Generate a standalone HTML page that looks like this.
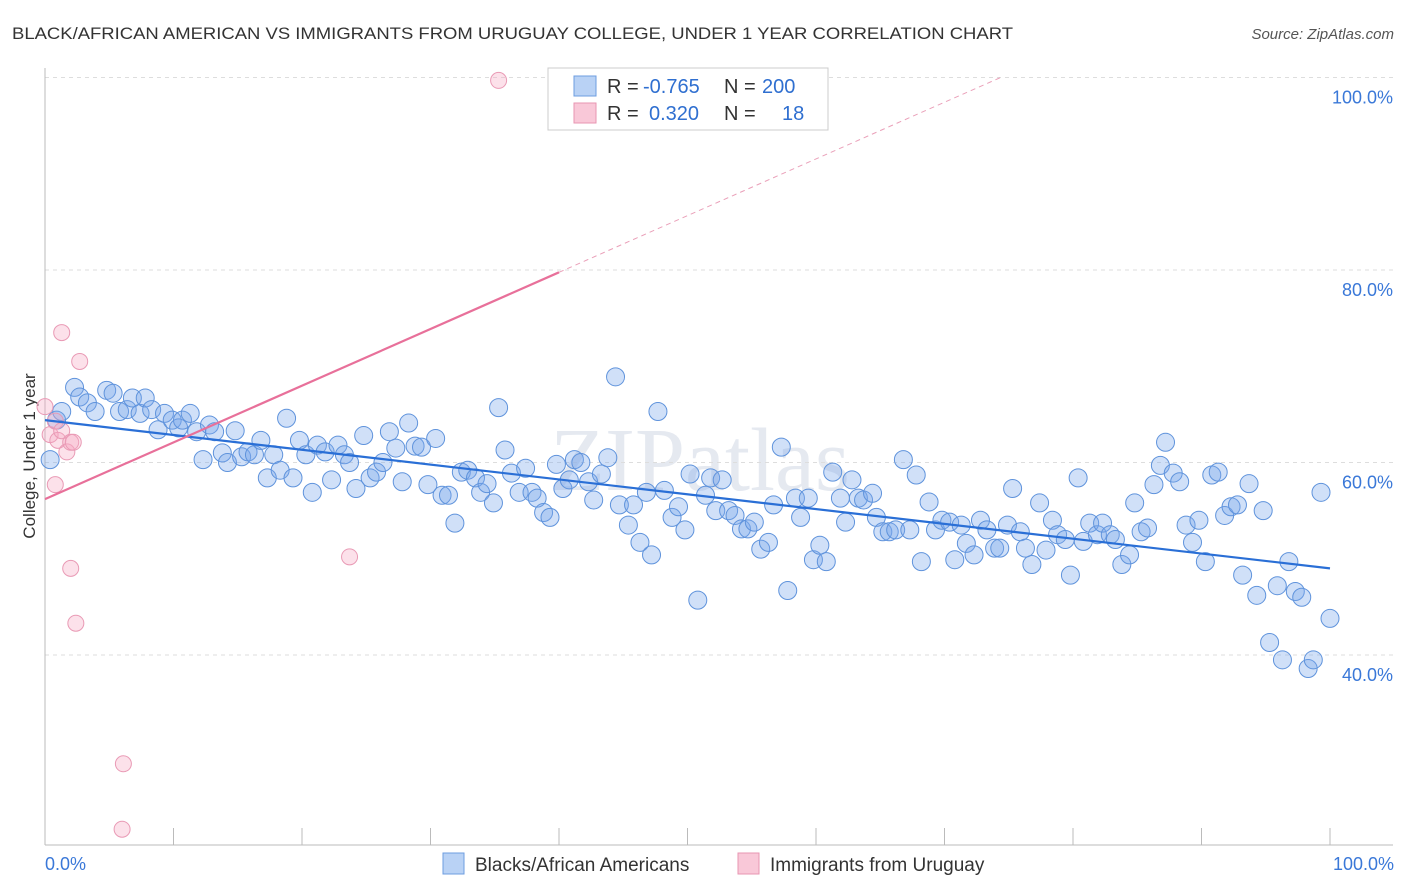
<!DOCTYPE html>
<html><head><meta charset="utf-8"><style>
body{margin:0;background:#fff;font-family:"Liberation Sans",sans-serif;}
#wrap{position:relative;width:1406px;height:892px;overflow:hidden;}
</style></head><body>
<div id="wrap">
<svg id="svg" width="1406" height="892" xmlns="http://www.w3.org/2000/svg">
<text x="12" y="39" font-size="17" fill="#333" textLength="1001" lengthAdjust="spacingAndGlyphs">BLACK/AFRICAN AMERICAN VS IMMIGRANTS FROM URUGUAY COLLEGE, UNDER 1 YEAR CORRELATION CHART</text>
<text x="1394" y="39" font-size="15" fill="#555" font-style="italic" text-anchor="end">Source: ZipAtlas.com</text>
<text x="700" y="490" font-size="90" fill="#e5e9f0" text-anchor="middle" font-family="Liberation Serif,serif">ZIPatlas</text>
<text x="35" y="456" font-size="17" fill="#333" text-anchor="middle" transform="rotate(-90 35 456)">College, Under 1 year</text>
<g id="grid"></g><g id="marks"></g>
<g>
<rect x="548" y="68" width="280" height="62" fill="#fff" stroke="#ccc"/>
<rect x="574" y="76" width="22" height="20" fill="#b9d2f5" stroke="#6d9de0"/>
<rect x="574" y="103" width="22" height="20" fill="#f9c8d8" stroke="#e896b2"/>
<text y="93" font-size="20" fill="#333"><tspan x="607">R = </tspan><tspan x="643" fill="#2f6fd0">-0.765</tspan><tspan x="724">N = </tspan><tspan x="762" fill="#2f6fd0">200</tspan></text>
<text y="120" font-size="20" fill="#333"><tspan x="607">R = </tspan><tspan x="649" fill="#2f6fd0">0.320</tspan><tspan x="724">N = </tspan><tspan x="782" fill="#2f6fd0">18</tspan></text>
</g>
<g>
<rect x="443" y="853" width="21" height="21" fill="#b9d2f5" stroke="#6d9de0"/>
<text x="475" y="871" font-size="19" fill="#333">Blacks/African Americans</text>
<rect x="738" y="853" width="21" height="21" fill="#f9c8d8" stroke="#e896b2"/>
<text x="770" y="871" font-size="19" fill="#333">Immigrants from Uruguay</text>
</g>
<text x="45" y="870" font-size="18" fill="#3a78d8">0.0%</text>
<text x="1394" y="870" font-size="18" fill="#3a78d8" text-anchor="end">100.0%</text>
</svg></div>
<script>
const blueX=[0.4,0.9,1.3,2.3,2.7,3.3,3.9,4.8,5.3,5.8,6.4,6.8,7.4,7.8,8.3,8.8,9.3,9.9,10.4,10.7,11.3,11.8,12.3,12.8,13.2,13.8,14.2,14.8,15.3,15.8,16.3,16.8,17.3,17.8,18.3,18.8,19.3,19.8,20.3,20.8,21.2,21.8,22.3,22.8,23.3,23.7,24.2,24.8,25.3,25.8,26.3,26.8,27.3,27.8,28.3,28.8,29.3,29.8,30.4,30.9,31.4,31.9,32.4,32.9,33.5,33.9,34.4,34.9,35.3,35.8,36.3,36.9,37.4,37.9,38.3,38.8,39.3,39.8,40.3,40.8,41.2,41.7,42.3,42.7,43.3,43.8,44.4,44.7,45.4,45.8,46.3,46.8,47.2,47.7,48.2,48.8,49.3,49.8,50.2,50.8,51.4,51.8,52.2,52.7,53.2,53.7,54.2,54.7,55.2,55.7,56.3,56.7,57.3,57.8,58.4,58.8,59.4,59.8,60.3,60.8,61.3,61.9,62.3,62.8,63.3,63.7,64.4,64.7,65.2,65.7,66.2,66.8,67.3,67.8,68.2,68.8,69.3,69.8,70.4,70.8,71.3,71.7,72.3,72.8,73.3,73.9,74.3,74.9,75.3,75.9,76.3,76.8,77.4,77.9,78.4,78.8,79.4,79.8,80.4,80.8,81.3,81.9,82.3,82.9,83.3,83.8,84.4,84.8,85.3,85.8,86.3,86.8,87.2,87.8,88.3,88.8,89.3,89.8,90.3,90.8,91.3,91.8,92.3,92.8,93.2,93.7,94.3,94.8,95.3,95.9,96.3,96.8,97.3,97.8,98.3,98.7,99.3,100];
const blueY=[60.3,64.4,65.3,67.8,66.8,66.2,65.3,67.5,67.2,65.3,65.5,66.7,65.1,66.7,65.5,63.4,65.1,64.4,63.6,64.4,65.1,63.2,60.3,63.9,63.2,61.0,60.0,63.3,60.6,61.1,60.8,62.3,58.4,60.8,59.2,64.6,58.4,62.3,60.8,56.9,61.8,61.1,58.2,61.8,60.8,60.0,57.3,62.8,58.4,59.0,60.0,63.2,61.5,58.0,64.1,61.7,61.6,57.7,62.5,56.6,56.6,53.7,59.0,59.2,58.4,56.9,57.8,55.8,65.7,61.3,58.9,56.9,59.4,56.9,56.3,54.8,54.3,59.8,57.3,58.2,60.3,60.0,58.0,56.1,58.8,60.5,68.9,55.6,53.5,55.6,51.7,56.9,50.4,65.3,57.1,54.3,55.4,53.0,58.8,45.7,56.6,58.4,55.0,58.2,55.0,54.5,53.1,53.1,53.8,51.0,51.7,55.6,61.6,46.7,56.3,54.3,56.3,49.9,51.4,49.7,59.0,56.3,53.8,58.2,56.3,56.1,56.8,54.3,52.8,52.8,53.0,60.3,53.0,58.7,49.7,55.9,53.0,54.0,53.8,49.9,53.5,51.6,50.4,54.0,53.0,51.1,51.1,53.5,57.3,52.8,51.1,49.4,55.8,50.9,54.0,52.5,52.0,48.3,58.4,51.8,53.7,52.5,53.7,52.5,52.0,49.4,50.4,55.8,52.8,53.2,57.7,59.7,62.1,58.9,58.0,53.5,51.7,54.0,49.7,58.7,59.0,54.5,55.4,55.6,48.3,57.8,46.2,55.0,41.3,47.2,39.5,49.7,46.6,46.0,38.6,39.5,56.9,43.8];
const pinkX=[0,0.4,0.8,0.8,1.0,1.3,1.3,1.7,2.0,2.0,2.2,2.4,2.7,6.1,6.0,23.7,35.3];
const pinkY=[65.8,62.9,64.3,57.7,62.3,63.3,73.5,61.1,62.1,49.0,62.1,43.3,70.5,28.7,21.9,50.2,99.7];
const blueTrend=[64.4,49.0]; // y at x=0 and x=100
const pinkTrend=[56.2,0.589]; // intercept, slope
const yTicks=[40,60,80,100];
const yTickLabels=["40.0%","60.0%","80.0%","100.0%"];

const NS="http://www.w3.org/2000/svg";
const sx=v=>45+v*12.85;
const sy=v=>847.5-(v-20)*9.625;
function mk(tag,attrs,parent){const e=document.createElementNS(NS,tag);for(const k in attrs)e.setAttribute(k,attrs[k]);parent.appendChild(e);return e;}
const grid=document.getElementById('grid'),marks=document.getElementById('marks');
yTicks.forEach((t,i)=>{
  const l=mk('line',{x1:45,x2:1393,y1:sy(t),y2:sy(t),stroke:'#ddd','stroke-dasharray':'4,4'},grid);
  
  
  const tx=mk('text',{x:1393,y:sy(t)+26,'font-size':18,fill:'#3a78d8','text-anchor':'end'},grid);
  tx.textContent=yTickLabels[i];
  
  
});
const ax=mk('line',{x1:45,x2:45,y1:68,y2:845,stroke:'#bbb'},grid);


const bx=mk('line',{x1:45,x2:1393,y1:845,y2:845,stroke:'#bbb'},grid);


for(let i=1;i<=10;i++){
  const t=mk('line',{x1:sx(i*10),x2:sx(i*10),y1:828,y2:845,stroke:'#bbb'},grid);
  
  
}
blueX.forEach((x,i)=>{
  const c=mk('circle',{cx:sx(x),cy:sy(blueY[i]),r:9,fill:'rgba(120,165,235,0.35)',stroke:'#5f93dc','stroke-width':1},marks);
  
  
});
pinkX.forEach((x,i)=>{
  const c=mk('circle',{cx:sx(x),cy:sy(pinkY[i]),r:8,fill:'rgba(245,170,195,0.35)',stroke:'#e99ab5','stroke-width':1},marks);
  
  
});
const bl=mk('line',{x1:sx(0),y1:sy(blueTrend[0]),x2:sx(100),y2:sy(blueTrend[1]),stroke:'#2a6fd6','stroke-width':2.2},marks);


const pEnd=40;
const xTop=(100-pinkTrend[0])/pinkTrend[1];
const ps=mk('line',{x1:sx(0),y1:sy(pinkTrend[0]),x2:sx(pEnd),y2:sy(pinkTrend[0]+pinkTrend[1]*pEnd),stroke:'#e8709a','stroke-width':2.2},marks);


const pd=mk('line',{x1:sx(pEnd),y1:sy(pinkTrend[0]+pinkTrend[1]*pEnd),x2:sx(xTop),y2:sy(100),stroke:'#eaa0b9','stroke-width':1,'stroke-dasharray':'5,4'},marks);


</script>
</body></html>
